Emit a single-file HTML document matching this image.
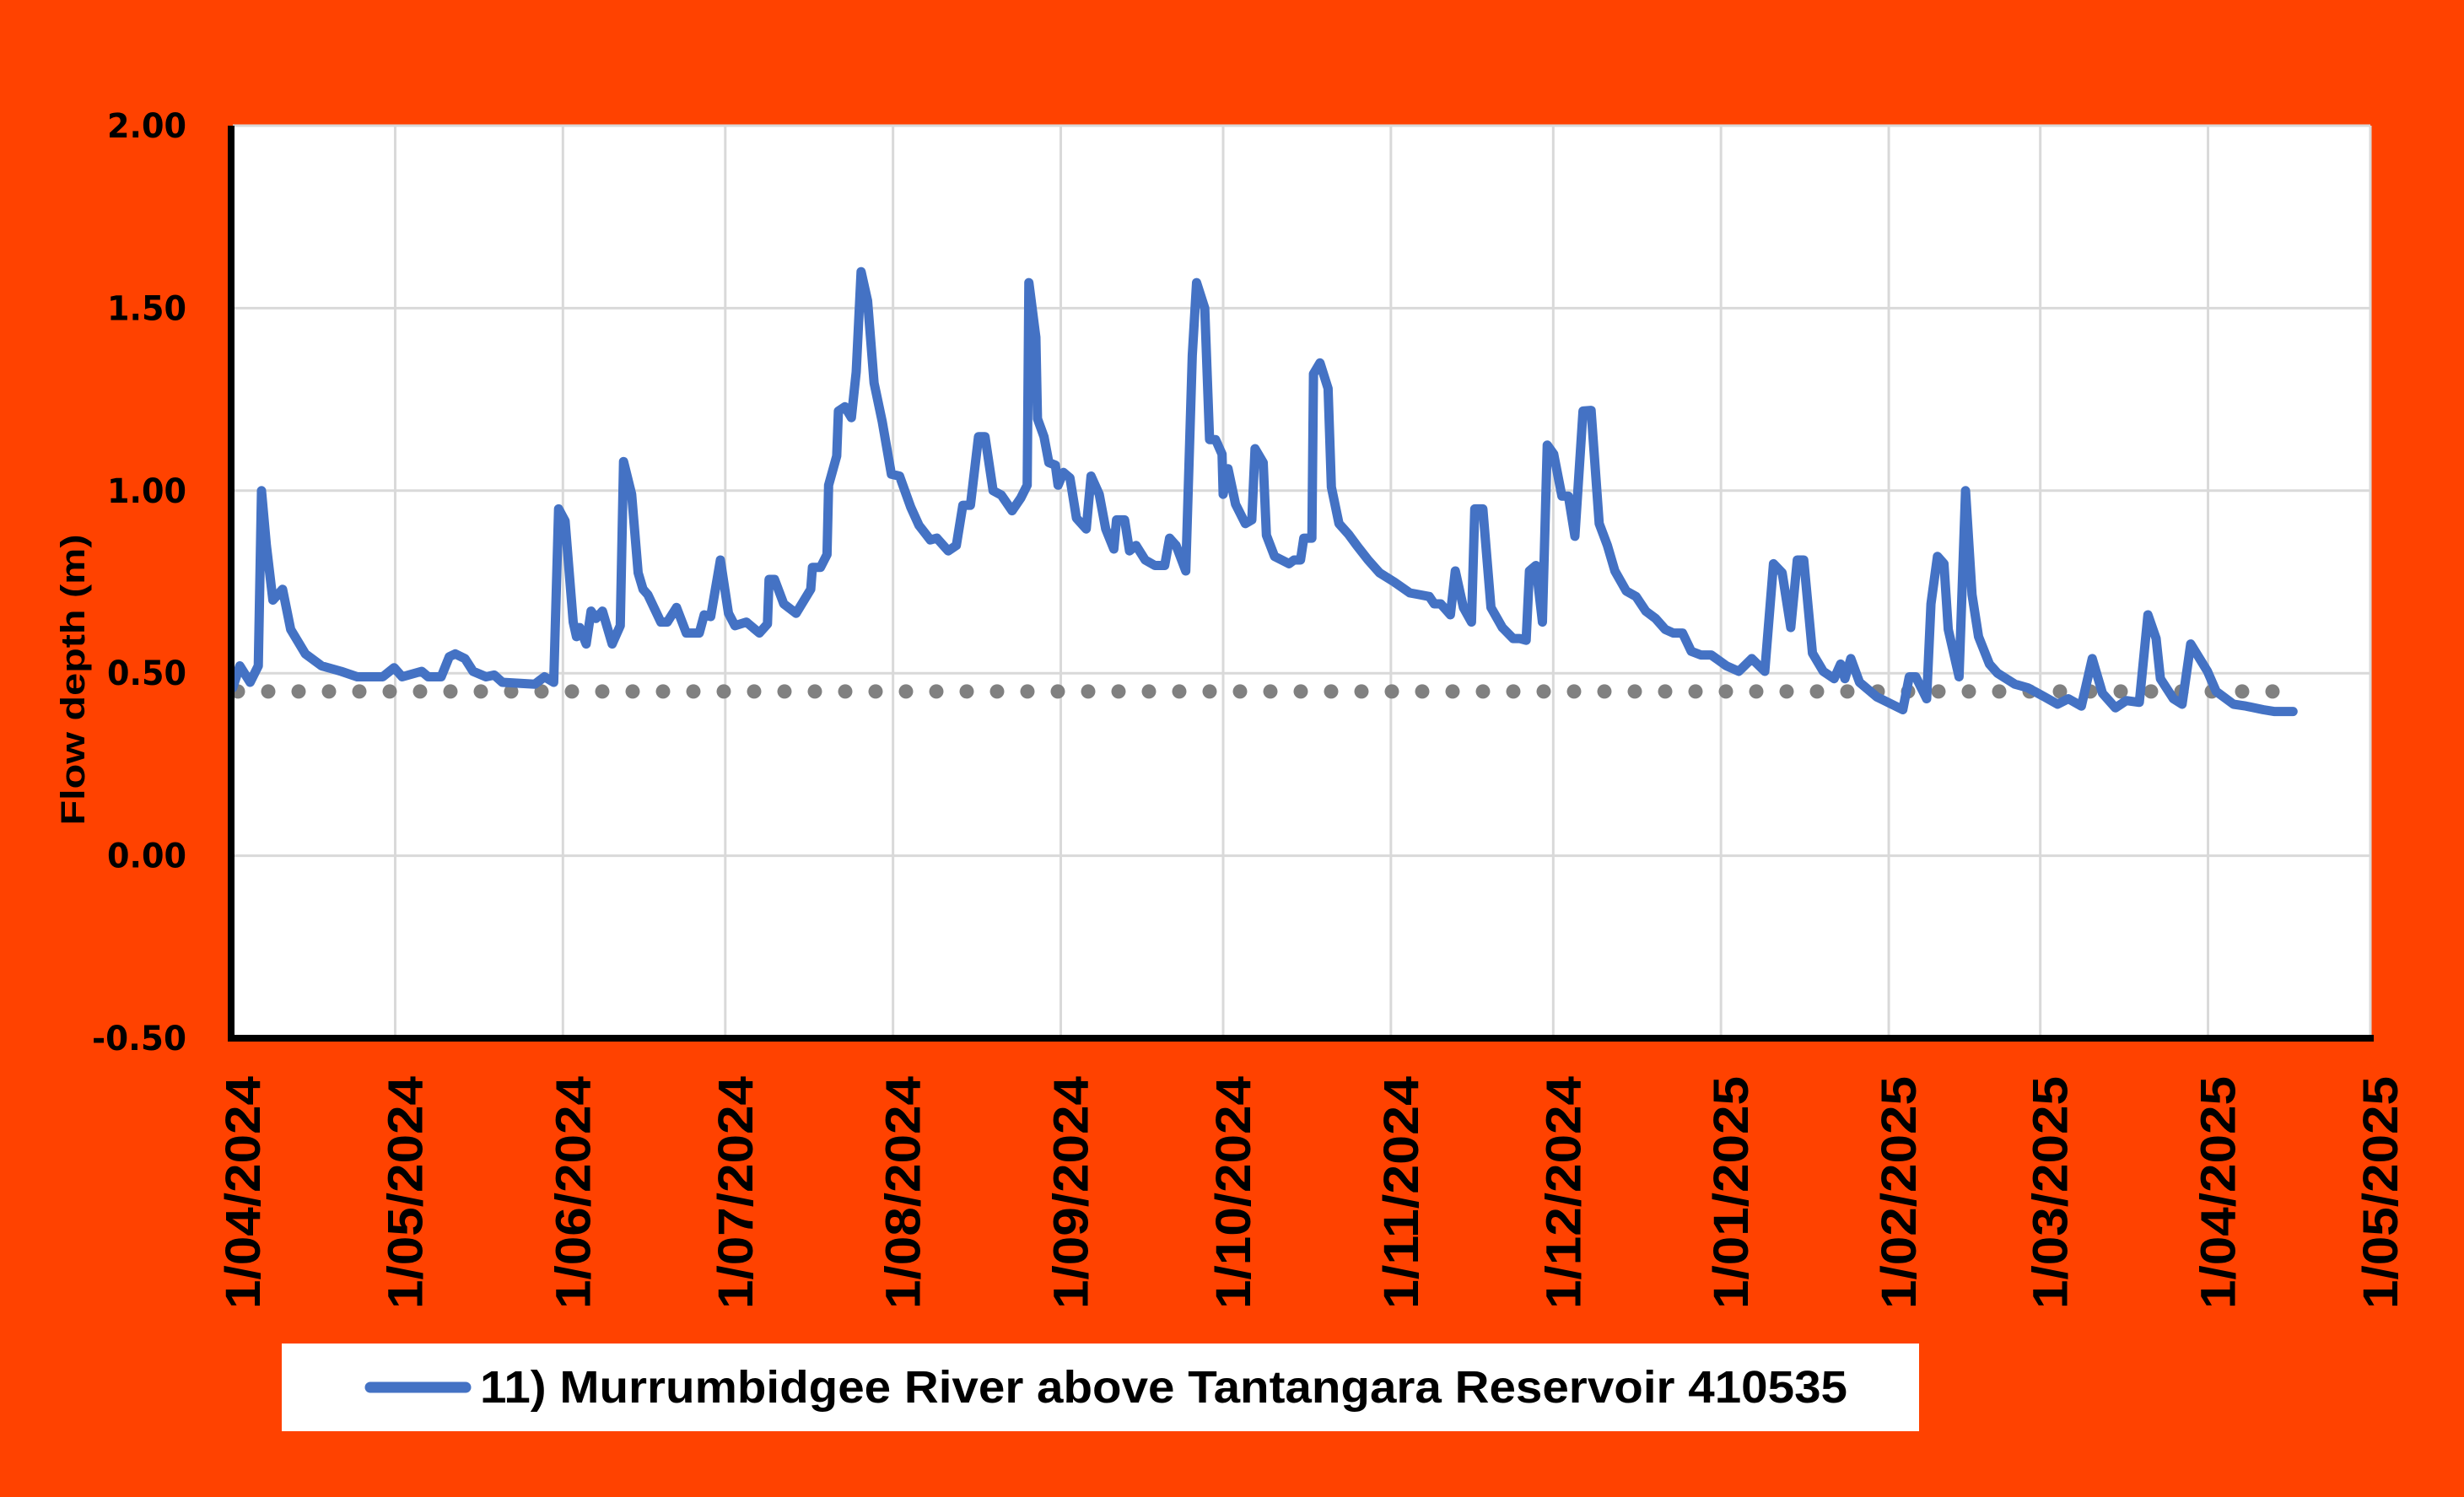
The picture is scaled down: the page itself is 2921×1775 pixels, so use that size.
<!DOCTYPE html>
<html><head><meta charset="utf-8"><style>
html,body{margin:0;padding:0;background:#FF4200;}
svg{display:block;}
</style></head><body>
<svg id="chart" width="2921" height="1775" viewBox="0 0 2921 1775" xmlns="http://www.w3.org/2000/svg">
<rect x="0" y="0" width="2921" height="1775" fill="#FF4200"/>
<rect x="276" y="149" width="2534" height="1082" fill="#ffffff"/>
<g id="grid"></g>
<g id="threshold"></g>
<g id="series"></g>
<g id="axes"></g>
<g id="yticks" font-family="'DejaVu Sans', sans-serif" font-weight="bold" font-size="40" fill="#000"></g>
<g id="xticks" font-family="'Liberation Sans', sans-serif" font-weight="bold" font-size="58" fill="#000"></g>
<text transform="translate(100,806) rotate(-90)" text-anchor="middle" font-family="'Liberation Sans', sans-serif" font-weight="bold" font-size="40" textLength="345" lengthAdjust="spacingAndGlyphs">Flow depth (m)</text>
<g>
<rect x="334" y="1593" width="1941" height="104" fill="#ffffff"/>
<line x1="439" y1="1645" x2="552" y2="1645" stroke="#4472C4" stroke-width="13" stroke-linecap="round"/>
<text x="569" y="1663" font-family="'Liberation Sans', sans-serif" font-weight="bold" font-size="54" textLength="1621" lengthAdjust="spacingAndGlyphs">11) Murrumbidgee River above Tantangara Reservoir 410535</text>
</g>
</svg>
<script>
// Data (days since 1/04/2024, flow depth in m)
const seriesDays = [0,1.3,3.2,4.7,5.3,6.2,7.4,9.2,10.7,13.4,16.4,20,23,27.7,29.8,31.3,34.9,36.1,38.5,40,41.1,42.9,44.4,46.8,48.3,49.8,55.8,57.6,59.3,60.2,61.4,62.9,63.5,64.1,65.3,66.2,67.1,68.3,70.1,71.6,72.2,73.7,74.9,75.8,76.7,79.1,80.3,82,83.8,86.2,87.1,88.3,90.1,91.6,92.8,94.9,97.3,98.8,99.1,100.1,101.8,104.1,106.8,107.1,108.6,109.8,110.1,111.6,111.9,113.1,114.3,115.2,116.1,117.3,118.5,120,121.7,123.2,125.3,126.8,128.9,130.1,132.2,133.7,134.9,136.3,137.8,139,140.5,142,144,145.6,146.8,147.1,148.4,148.7,149.9,150.8,152,152.5,153.5,154.7,155.9,157.7,158.6,160.1,161.3,162.8,163.3,164.8,165.7,166.9,168.6,170.4,172.2,173.1,174.3,176.1,177.3,178.1,179.6,180.5,181.6,182.8,183,183.9,185.3,187.1,188.3,188.9,190.4,191,192.5,195.2,196.1,197.3,197.9,199.4,199.7,200.9,202.4,203,204.4,206.2,207.7,209.8,211.9,214.6,217.5,219.3,221.1,222,223.2,225,225.9,227.4,228.9,229.5,231,232.5,234.6,236.6,237.8,239,239.6,240.8,242,242.9,244.1,245.6,246.8,248,249.5,251,252.5,254,255.4,257.5,259.3,261.1,262.9,264.7,266.2,267.9,269.5,271.3,273.2,276,278.3,280.7,283.1,284.7,286.3,287.9,289.1,290.3,291.9,293.9,295.9,297.1,297.9,299,300.6,303.8,308.6,309.8,311,313,313.8,315,316.2,317,319,320.2,321.4,322.6,324.6,326.1,329.3,331.7,334.8,337.2,339.2,341.6,343.6,345.5,347.9,349.9,352.3,353.9,355.4,356.2,358.6,360.2,361.8,364.9,366.5,369.7,372,375.2,377.2,380.7];
const seriesValues = [0.46,0.52,0.475,0.52,1.0,0.85,0.70,0.73,0.62,0.553,0.52,0.505,0.49,0.49,0.515,0.49,0.505,0.49,0.49,0.545,0.553,0.54,0.505,0.49,0.495,0.475,0.47,0.49,0.475,0.95,0.917,0.64,0.60,0.625,0.58,0.67,0.65,0.67,0.58,0.63,1.08,0.99,0.775,0.73,0.715,0.64,0.64,0.68,0.61,0.61,0.66,0.655,0.81,0.664,0.63,0.64,0.61,0.635,0.757,0.757,0.69,0.664,0.73,0.79,0.79,0.825,1.015,1.095,1.218,1.23,1.2,1.325,1.60,1.52,1.295,1.19,1.045,1.04,0.954,0.905,0.865,0.87,0.835,0.85,0.96,0.96,1.148,1.148,1.0,0.988,0.945,0.98,1.015,1.57,1.42,1.197,1.148,1.077,1.07,1.015,1.05,1.035,0.925,0.895,1.04,0.99,0.895,0.84,0.92,0.92,0.835,0.85,0.81,0.795,0.795,0.87,0.85,0.78,1.37,1.57,1.50,1.14,1.14,1.10,0.99,1.06,0.963,0.91,0.92,1.115,1.077,0.878,0.82,0.80,0.81,0.81,0.87,0.87,1.32,1.35,1.28,1.01,0.91,0.88,0.85,0.81,0.775,0.75,0.72,0.715,0.71,0.69,0.69,0.66,0.78,0.68,0.64,0.95,0.95,0.68,0.625,0.595,0.595,0.59,0.78,0.795,0.64,1.125,1.10,0.985,0.985,0.875,1.218,1.22,0.91,0.85,0.78,0.725,0.71,0.67,0.65,0.62,0.61,0.61,0.56,0.55,0.55,0.52,0.505,0.54,0.505,0.80,0.775,0.625,0.81,0.81,0.555,0.505,0.485,0.525,0.485,0.54,0.475,0.435,0.40,0.49,0.49,0.43,0.69,0.82,0.80,0.62,0.49,1.00,0.715,0.60,0.525,0.50,0.47,0.46,0.435,0.415,0.43,0.41,0.54,0.445,0.405,0.425,0.42,0.66,0.595,0.485,0.43,0.415,0.58,0.505,0.45,0.415,0.41,0.40,0.395,0.395];
const thresholdValue = [0.45];
const thresholdRange = [0, 377];
const yTickValues = [2.0, 1.5, 1.0, 0.5, 0.0, -0.5];
const yTickLabels = ["2.00","1.50","1.00","0.50","0.00","-0.50"];
const xTickDays = [0,30,61,91,122,153,183,214,244,275,306,334,365,395];
const xTickLabels = ["1/04/2024","1/05/2024","1/06/2024","1/07/2024","1/08/2024","1/09/2024","1/10/2024","1/11/2024","1/12/2024","1/01/2025","1/02/2025","1/03/2025","1/04/2025","1/05/2025"];

const NS = "http://www.w3.org/2000/svg";
const X0 = 276, X1 = 2810, Y0 = 149, Y1 = 1231;
const DMAX = 395, VMIN = -0.5, VMAX = 2.0;
function xScale(d){ return X0 + d / DMAX * (X1 - X0); }
function yScale(v){ return Y0 + (VMAX - v) / (VMAX - VMIN) * (Y1 - Y0); }
function mk(tag, attrs, parent){ const e = document.createElementNS(NS, tag); for (const k in attrs) e.setAttribute(k, attrs[k]); parent.appendChild(e); return e; }

const grid = document.getElementById('grid');
yTickValues.forEach((v) => {
  if (v === VMIN) return;
  const l = mk('line', {x1: X0, x2: X1, y1: yScale(v), y2: yScale(v), stroke: '#d9d9d9', 'stroke-width': 3}, grid);
  
  
});
xTickDays.forEach((d) => {
  if (d === 0) return;
  const l = mk('line', {x1: xScale(d), x2: xScale(d), y1: Y0, y2: Y1, stroke: '#d9d9d9', 'stroke-width': 3}, grid);
  
  
});

const th = document.getElementById('threshold');
const tl = mk('line', {x1: xScale(thresholdRange[0]) + 6, x2: xScale(thresholdRange[1]), y1: yScale(thresholdValue[0]), y2: yScale(thresholdValue[0]), stroke: '#808080', 'stroke-width': 17, 'stroke-linecap': 'round', 'stroke-dasharray': '0 36'}, th);



const s = document.getElementById('series');
let dstr = '';
seriesDays.forEach((d, i) => { dstr += (i ? 'L' : 'M') + xScale(d).toFixed(1) + ' ' + yScale(seriesValues[i]).toFixed(1) + ' '; });
const p = mk('path', {d: dstr, fill: 'none', stroke: '#4472C4', 'stroke-width': 11, 'stroke-linejoin': 'round', 'stroke-linecap': 'round'}, s);



const ax = document.getElementById('axes');
const ya = mk('line', {x1: 274, x2: 274, y1: Y0, y2: Y1 + 4, stroke: '#000', 'stroke-width': 8}, ax);


const xa = mk('line', {x1: 270, x2: 2814, y1: Y1, y2: Y1, stroke: '#000', 'stroke-width': 8}, ax);



const yt = document.getElementById('yticks');
yTickValues.forEach((v, i) => {
  const t = mk('text', {x: 221, y: yScale(v) + 14, 'text-anchor': 'end', textLength: yTickLabels[i].length > 4 ? 112 : 94, lengthAdjust: 'spacingAndGlyphs'}, yt);
  t.textContent = yTickLabels[i];
  
  
});

const xt = document.getElementById('xticks');
xTickDays.forEach((d, i) => {
  const bx = xScale(d) + 32;
  const t = mk('text', {transform: 'translate(' + bx.toFixed(1) + ',1276) rotate(-90)', 'text-anchor': 'end', textLength: 276, lengthAdjust: 'spacingAndGlyphs'}, xt);
  t.textContent = xTickLabels[i];
  
  
});
</script>
</body></html>
